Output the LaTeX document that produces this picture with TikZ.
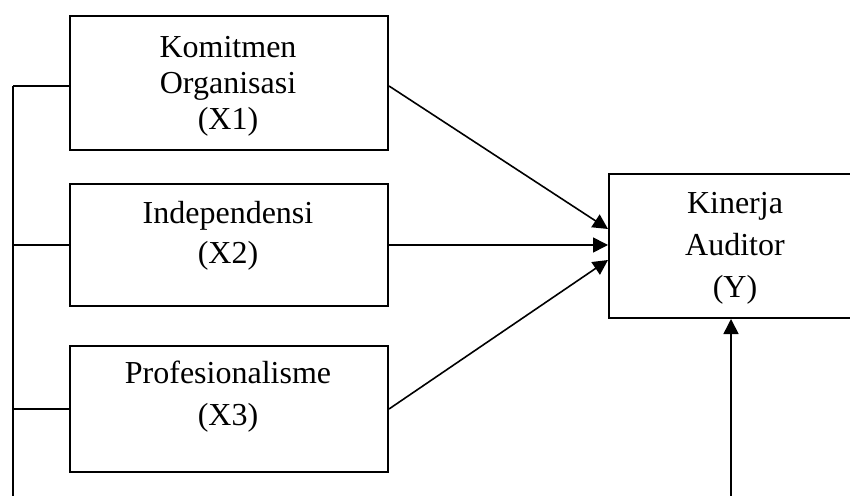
\documentclass[tikz,border=0pt]{standalone}
\usepackage{fontspec}
\setmainfont{Liberation Serif}
\usetikzlibrary{arrows.meta,calc}

\begin{document}
\begin{tikzpicture}[x=0.5pt,y=-0.5pt,
	kotak/.style={draw,line width=1pt,anchor=north west,inner sep=0pt},
	teks/.style={align=center,inner sep=0pt},
	panah/.style={line width=0.8pt,-{Triangle[length=7.5pt,width=7.5pt]}},
	garis/.style={line width=1pt}]
	\clip (0,0) rectangle (850,496);
	
	% kotak variabel
	\node[kotak,minimum width=159pt,minimum height=67pt] (x1) at (69,15) {};
	\node[kotak,minimum width=159pt,minimum height=61pt] (x2) at (69,183) {};
	\node[kotak,minimum width=159pt,minimum height=63pt] (x3) at (69,345) {};
	\node[kotak,minimum width=131pt,minimum height=72pt] (y) at (608,173) {};
	
	\node[teks,font=\fontsize{16}{18}\selectfont] (t1) at (228,86) {Komitmen\\Organisasi\\(X1)};
	\node[teks,font=\fontsize{16}{20}\selectfont] (t2) at (228,236) {Independensi\\(X2)};
	\node[teks,font=\fontsize{16}{21}\selectfont] (t3) at (228,397) {Profesionalisme\\(X3)};
	\node[teks,font=\fontsize{16}{21}\selectfont] (ty) at (735,248) {Kinerja\\Auditor\\(Y)};
	
	% garis kiri
	\coordinate (bus) at (13,86);
	\coordinate (busbawah) at (13,496);
	\draw[garis] (bus) -- (busbawah);
	\draw[garis] (bus) -- (bus -| x1.west);
	\draw[garis] (x2.west -| bus) -- (x2.west);
	\draw[garis] (x3.west -| bus) -- (x3.west);
	
	% panah ke Y
	\draw[panah] ($(x1.north east)+(0,71)$) -- ($(y.north west)+(0,56)$);
	\draw[panah] (x2.east) -- (x2.east -| y.west);
	\draw[panah] (x3.east) -- ($(y.north west)+(0,87)$);
	\coordinate (bawah) at (731,496);
	\draw[panah] (bawah) -- (bawah |- y.south);
\end{tikzpicture}
\end{document}
